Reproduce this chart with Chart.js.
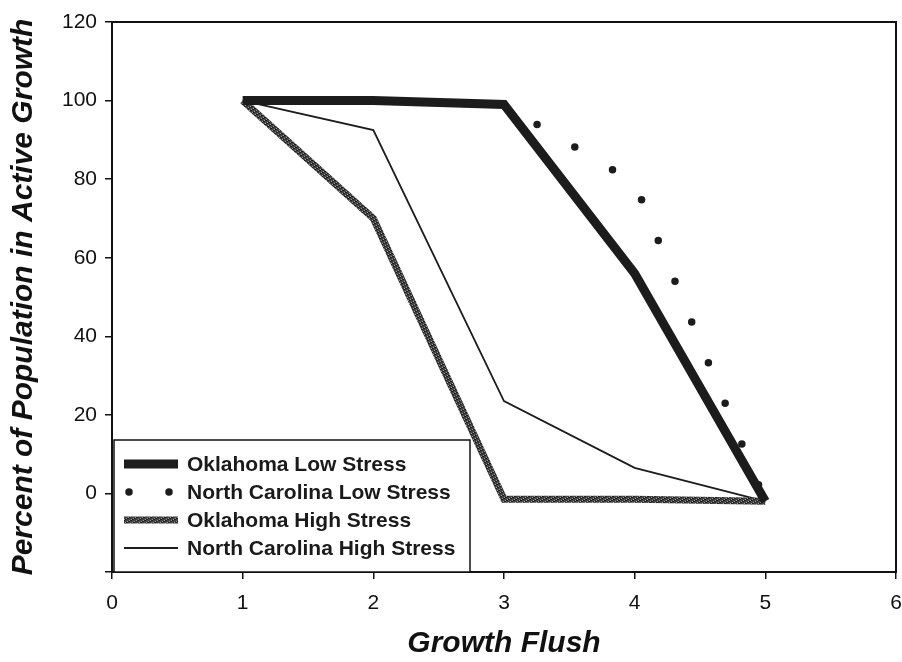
<!DOCTYPE html>
<html>
<head>
<meta charset="utf-8">
<title>Growth Flush</title>
<script src="https://cdn.jsdelivr.net/npm/chart.js@4/dist/chart.umd.min.js"></script>
<style>
    html, body { margin: 0; padding: 0; background: #fff; }
    #wrap { width: 902px; height: 662px; }
</style>
</head>
<body>
<div id="wrap"><canvas id="flushChart" width="902" height="662"></canvas></div>
<script>
// Growth flush number vs. percent of the population still in active growth
const flushes = [1, 2, 3, 4, 5];
const okLow = [100, 100, 99, 56, -2];
const ncLow = [100, 100, 99, 79, -2];
const okHigh = [100, 70, -1.5, -1.5, -2];
const ncHigh = [100, 92.5, 23.5, 6.5, -2];

const seriesNames = [
    'Oklahoma Low Stress',
    'North Carolina Low Stress',
    'Oklahoma High Stress',
    'North Carolina High Stress'
];

const yTicks = [0, 20, 40, 60, 80, 100, 120];
const xTicks = [0, 1, 2, 3, 4, 5, 6];

const FONT = '"Liberation Sans", Arial, Helvetica, sans-serif';

// speckled grey used for the Oklahoma high stress line
function speckle() {
    const c = document.createElement('canvas');
    c.width = 7; c.height = 7;
    const g = c.getContext('2d');
    g.fillStyle = '#444';
    g.fillRect(0, 0, 7, 7);
    for (let i = 0; i < 7; i++) {
        for (let j = 0; j < 7; j++) {
            const k = (i * 5 + j * 3) % 7;
            if (k === 0) { g.fillStyle = '#9a9a9a'; g.fillRect(i, j, 1, 1); }
            else if (k === 3 || k === 5) { g.fillStyle = '#1e1e1e'; g.fillRect(i, j, 1, 1); }
        }
    }
    return g.createPattern(c, 'repeat');
}

const toPoints = vals => flushes.map((f, i) => ({ x: f, y: vals[i] }));

// box around the plot (top and right edges)
const frame = {
    id: 'frame',
    beforeDatasetsDraw(chart) {
        const { ctx, chartArea: a } = chart;
        ctx.save();
        ctx.strokeStyle = '#111';
        ctx.lineWidth = 2;
        ctx.strokeRect(a.left, a.top, a.right - a.left, a.bottom - a.top);
        ctx.restore();
    }
};

// legend box sitting in the lower left corner of the plot
const cornerLegend = {
    id: 'cornerLegend',
    afterDraw(chart) {
        const { ctx, chartArea: a } = chart;
        const x0 = a.left + 2, y0 = a.bottom - 132, w = 356, h = 132;
        ctx.save();
        ctx.fillStyle = '#fff';
        ctx.fillRect(x0, y0, w, h);
        ctx.strokeStyle = '#111';
        ctx.lineWidth = 1.5;
        ctx.strokeRect(x0, y0, w, h);

        chart.data.datasets.forEach((ds, i) => {
            const y = y0 + 24 + i * 28;
            ctx.save();
            ctx.beginPath();
            ctx.strokeStyle = ds.borderColor;
            ctx.lineWidth = ds.borderWidth;
            ctx.lineCap = ds.borderCapStyle || 'butt';
            if (ds.borderDash && ds.borderDash.length) {
                ctx.setLineDash([0, 40]);
                ctx.moveTo(x0 + 15, y);
                ctx.lineTo(x0 + 56, y);
            } else {
                ctx.moveTo(x0 + 10, y);
                ctx.lineTo(x0 + 64, y);
            }
            ctx.stroke();
            ctx.restore();

            ctx.fillStyle = '#1a1a1a';
            ctx.font = 'bold 21px ' + FONT;
            ctx.textBaseline = 'middle';
            ctx.fillText(ds.label, x0 + 73, y + 1);
        });
        ctx.restore();
    }
};

const ctx = document.getElementById('flushChart').getContext('2d');
const greyLine = speckle();

new Chart(ctx, {
    type: 'line',
    data: {
        datasets: [
            {
                label: seriesNames[0],
                data: toPoints(okLow),
                borderColor: '#1c1c1c',
                borderWidth: 9,
                borderJoinStyle: 'miter'
            },
            {
                label: seriesNames[1],
                data: toPoints(ncLow),
                borderColor: '#1c1c1c',
                borderWidth: 7.5,
                borderDash: [0, 44],
                borderDashOffset: 8,
                borderCapStyle: 'round'
            },
            {
                label: seriesNames[2],
                data: toPoints(okHigh),
                borderColor: greyLine,
                borderWidth: 7,
                borderJoinStyle: 'miter'
            },
            {
                label: seriesNames[3],
                data: toPoints(ncHigh),
                borderColor: '#1c1c1c',
                borderWidth: 1.8
            }
        ]
    },
    options: {
        responsive: false,
        animation: false,
        devicePixelRatio: 1,
        layout: { padding: { top: 22, right: 6, left: 0, bottom: 0 } },
        elements: {
            point: { radius: 0, hoverRadius: 0 },
            line: { tension: 0, fill: false }
        },
        scales: {
            x: {
                type: 'linear',
                min: 0,
                max: 6,
                afterFit: s => { s.height = 90; s.paddingRight = 0; s.paddingLeft = 0; },
                afterBuildTicks: s => { s.ticks = xTicks.map(v => ({ value: v })); },
                border: { color: '#111', width: 2 },
                grid: { drawOnChartArea: false, drawTicks: true, tickLength: 7, color: '#111', lineWidth: 1.5 },
                ticks: { color: '#111', font: { family: FONT, size: 21 }, padding: 12, maxRotation: 0 },
                title: {
                    display: true,
                    text: 'Growth Flush',
                    color: '#111',
                    font: { family: FONT, size: 30, weight: 'bold', style: 'italic' },
                    padding: { top: 0, bottom: 0 }
                }
            },
            y: {
                type: 'linear',
                min: -20,
                max: 120,
                afterFit: s => { s.width = 112; s.paddingTop = 0; s.paddingBottom = 0; },
                afterBuildTicks: s => { s.ticks = [-20].concat(yTicks).map(v => ({ value: v })); },
                border: { color: '#111', width: 2 },
                grid: { drawOnChartArea: false, drawTicks: true, tickLength: 7, color: '#111', lineWidth: 1.5 },
                ticks: {
                    color: '#111',
                    font: { family: FONT, size: 21 },
                    padding: 8,
                    callback: v => (v < 0 ? '' : v)
                },
                title: {
                    display: true,
                    text: 'Percent of Population in Active Growth',
                    color: '#111',
                    font: { family: FONT, size: 30, weight: 'bold', style: 'italic' },
                    padding: { top: 6, bottom: 0 }
                }
            }
        },
        plugins: {
            legend: { display: false },
            tooltip: { enabled: false }
        }
    },
    plugins: [frame, cornerLegend]
});
</script>
</body>
</html>
